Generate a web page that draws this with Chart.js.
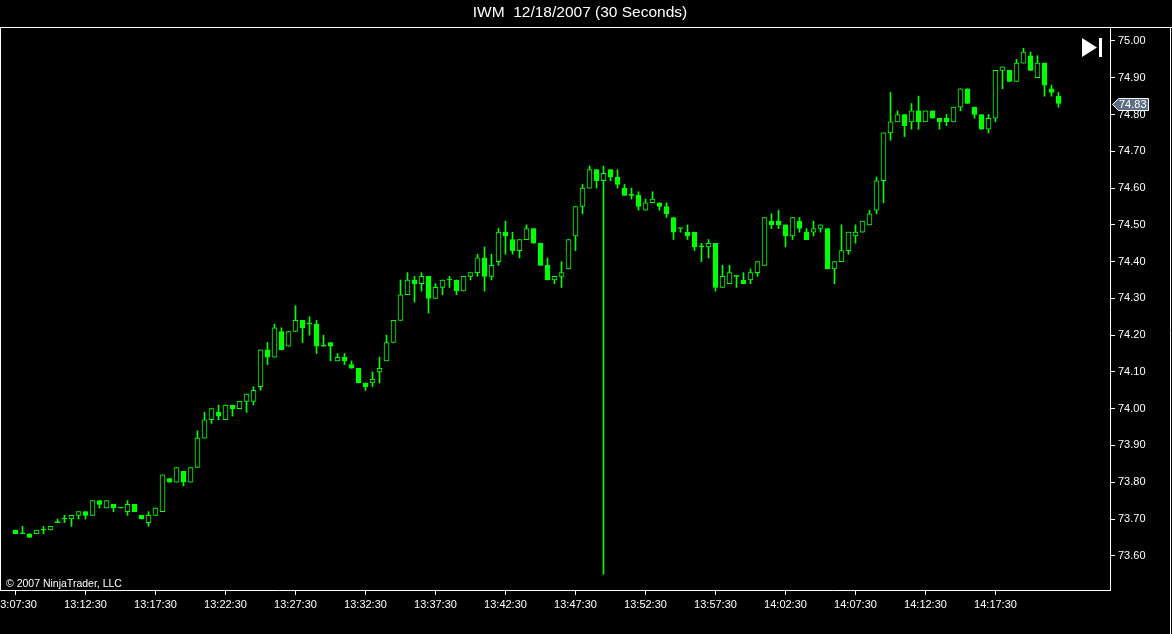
<!DOCTYPE html>
<html>
<head>
<meta charset="utf-8">
<script src="https://cdn.jsdelivr.net/npm/chart.js@4.4.1/dist/chart.umd.min.js"></script>
<style>
  html, body { margin: 0; padding: 0; background: #000; overflow: hidden; }
  canvas { display: block; }
</style>
</head>
<body>
<canvas id="chart" width="1172" height="634"></canvas>
<script>
// IWM 30-second bars, 13:07:30 .. 14:22:00
const opens = [
  73.67,73.66,73.66,73.66,73.67,73.67,73.69,73.70,73.70,73.71,
  73.72,73.71,73.75,73.73,73.74,73.73,73.72,73.74,73.71,73.69,
  73.71,73.72,73.81,73.80,73.83,73.80,73.84,73.92,73.97,73.99,
  73.97,74.01,74.00,74.02,74.02,74.06,74.16,74.14,74.21,74.17,
  74.21,74.24,74.23,74.23,74.17,74.18,74.13,74.14,74.12,74.11,
  74.07,74.07,74.10,74.13,74.18,74.24,74.31,74.35,74.34,74.36,
  74.30,74.33,74.35,74.35,74.32,74.36,74.37,74.41,74.36,74.40,
  74.48,74.46,74.43,74.46,74.49,74.45,74.39,74.35,74.36,74.38,
  74.47,74.55,74.60,74.65,74.62,74.65,74.63,74.60,74.58,74.58,
  74.54,74.56,74.56,74.55,74.52,74.49,74.48,74.48,74.44,74.44,
  74.45,74.33,74.34,74.36,74.35,74.35,74.37,74.39,74.51,74.51,
  74.50,74.47,74.51,74.48,74.48,74.49,74.49,74.38,74.40,74.43,
  74.47,74.48,74.50,74.54,74.62,74.75,74.78,74.80,74.78,74.81,
  74.78,74.81,74.79,74.79,74.78,74.82,74.87,74.82,74.80,74.76,
  74.79,74.92,74.92,74.89,74.94,74.96,74.90,74.94,74.87,74.85
];
const highs = [
  73.67,73.68,73.66,73.67,73.68,73.68,73.70,73.71,73.71,73.72,
  73.72,73.75,73.75,73.75,73.74,73.73,73.75,73.74,73.71,73.72,
  73.73,73.82,73.81,73.84,73.83,73.84,73.94,73.99,74.00,74.01,
  74.01,74.01,74.02,74.04,74.06,74.16,74.18,74.23,74.22,74.21,
  74.28,74.24,74.25,74.24,74.20,74.18,74.15,74.15,74.13,74.11,
  74.07,74.10,74.14,74.20,74.24,74.35,74.37,74.36,74.37,74.36,
  74.34,74.35,74.36,74.35,74.36,74.37,74.42,74.44,74.42,74.49,
  74.51,74.48,74.46,74.50,74.49,74.45,74.41,74.36,74.40,74.46,
  74.55,74.61,74.66,74.65,74.66,74.65,74.65,74.61,74.60,74.59,
  74.57,74.59,74.56,74.56,74.52,74.49,74.50,74.48,74.45,74.46,
  74.45,74.39,74.39,74.36,74.37,74.38,74.40,74.52,74.53,74.54,
  74.50,74.52,74.52,74.49,74.51,74.50,74.49,74.40,74.50,74.48,
  74.50,74.51,74.54,74.63,74.75,74.86,74.81,74.80,74.83,74.85,
  74.81,74.81,74.79,74.80,74.82,74.87,74.87,74.82,74.80,74.80,
  74.92,74.93,74.92,74.95,74.98,74.97,74.96,74.94,74.88,74.86
];
const lows = [
  73.66,73.66,73.65,73.66,73.66,73.67,73.69,73.69,73.68,73.70,
  73.70,73.71,73.73,73.73,73.72,73.73,73.71,73.72,73.70,73.68,
  73.71,73.72,73.80,73.80,73.79,73.80,73.84,73.92,73.96,73.97,
  73.97,73.98,74.00,73.99,74.01,74.05,74.12,74.14,74.16,74.17,
  74.21,74.18,74.20,74.15,74.17,74.13,74.13,74.12,74.11,74.07,
  74.05,74.06,74.07,74.13,74.18,74.24,74.31,74.29,74.32,74.26,
  74.30,74.31,74.33,74.31,74.32,74.35,74.36,74.32,74.35,74.39,
  74.42,74.42,74.41,74.46,74.45,74.39,74.35,74.34,74.33,74.38,
  74.43,74.53,74.60,74.60,73.55,74.62,74.60,74.58,74.57,74.54,
  74.54,74.56,74.54,74.52,74.46,74.48,74.46,74.43,74.40,74.41,
  74.32,74.33,74.34,74.33,74.34,74.34,74.36,74.39,74.49,74.49,
  74.44,74.46,74.48,74.46,74.47,74.48,74.38,74.34,74.40,74.42,
  74.45,74.48,74.50,74.53,74.56,74.73,74.78,74.74,74.76,74.76,
  74.78,74.79,74.76,74.77,74.78,74.81,74.83,74.79,74.76,74.75,
  74.78,74.87,74.89,74.89,74.94,74.92,74.90,74.85,74.85,74.82
];
const closes = [
  73.66,73.66,73.65,73.67,73.67,73.68,73.69,73.70,73.71,73.72,
  73.71,73.75,73.74,73.75,73.73,73.73,73.74,73.72,73.70,73.71,
  73.73,73.82,73.80,73.84,73.80,73.84,73.92,73.97,74.00,73.98,
  74.01,74.00,74.02,74.04,74.05,74.16,74.14,74.22,74.16,74.21,
  74.24,74.22,74.23,74.17,74.17,74.17,74.14,74.13,74.11,74.07,
  74.06,74.08,74.11,74.18,74.24,74.31,74.35,74.34,74.36,74.30,
  74.33,74.35,74.35,74.32,74.36,74.37,74.41,74.36,74.39,74.48,
  74.47,74.43,74.46,74.49,74.45,74.39,74.35,74.36,74.37,74.46,
  74.55,74.60,74.65,74.62,74.64,74.63,74.61,74.58,74.58,74.55,
  74.56,74.57,74.55,74.53,74.48,74.49,74.47,74.44,74.44,74.45,
  74.33,74.36,74.37,74.36,74.34,74.37,74.40,74.52,74.50,74.50,
  74.47,74.52,74.49,74.46,74.49,74.50,74.38,74.40,74.43,74.48,
  74.48,74.51,74.53,74.62,74.75,74.78,74.80,74.77,74.81,74.78,
  74.81,74.79,74.78,74.78,74.82,74.87,74.83,74.80,74.76,74.79,
  74.92,74.93,74.89,74.94,74.97,74.92,74.94,74.88,74.86,74.83
];
const timeLabels = ['13:07:30','13:12:30','13:17:30','13:22:30','13:27:30','13:32:30','13:37:30',
  '13:42:30','13:47:30','13:52:30','13:57:30','14:02:30','14:07:30','14:12:30','14:17:30'];
const priceTicks = [73.6,73.7,73.8,73.9,74.0,74.1,74.2,74.3,74.4,74.5,74.6,74.7,74.8,74.9,75.0];
const barsPerLabel = 10;

const GREEN = '#00ff00';
const FONT = 'Liberation Sans, Arial, sans-serif';

const idx = opens.map((_, i) => i);
const bodies = idx.map(i => ({ x: i, y: [opens[i], closes[i]] }));
const wicks = idx.map(i => ({ x: i, y: [lows[i], highs[i]] }));
const bodyFill = idx.map(i => closes[i] > opens[i] ? '#000' : GREEN);

function fixBox(w, h) {
  return s => {
    if (w) s.width = w;
    if (h) s.height = h;
    s.paddingLeft = 0; s.paddingRight = 0; s.paddingTop = 0; s.paddingBottom = 0;
  };
}

const frame = {
  id: 'frame',
  afterDraw(chart) {
    const c = chart.ctx, y = chart.scales.y;
    c.save();
    c.strokeStyle = '#fff';
    c.lineWidth = 1;
    c.beginPath();
    c.moveTo(0, 27.5); c.lineTo(1172, 27.5);
    c.moveTo(0.5, 27); c.lineTo(0.5, 591);
    c.moveTo(1170.5, 27); c.lineTo(1170.5, 634);
    c.stroke();

    c.fillStyle = '#fff';
    c.textAlign = 'center';
    c.textBaseline = 'middle';
    c.font = '15.5px ' + FONT;
    c.fillText('IWM  12/18/2007 (30 Seconds)', 580, 13);

    c.textAlign = 'left';
    c.textBaseline = 'alphabetic';
    c.font = '10.5px ' + FONT;
    c.fillText('\u00a9 2007 NinjaTrader, LLC', 6, 587);

    // go-to-end button
    c.beginPath();
    c.moveTo(1082, 38); c.lineTo(1097, 47.5); c.lineTo(1082, 57); c.closePath();
    c.fill();
    c.fillRect(1099, 38, 3, 19);

    // last price marker
    const last = closes[closes.length - 1];
    const py = Math.round(y.getPixelForValue(last)) + 0.5;
    c.beginPath();
    c.moveTo(1112.5, py);
    c.lineTo(1118.5, py - 6);
    c.lineTo(1148.5, py - 6);
    c.lineTo(1148.5, py + 6);
    c.lineTo(1118.5, py + 6);
    c.closePath();
    c.fillStyle = '#5e6e86';
    c.fill();
    c.strokeStyle = '#fff';
    c.stroke();
    c.fillStyle = '#fff';
    c.textBaseline = 'middle';
    c.font = '11px ' + FONT;
    c.fillText(last.toFixed(2), 1119, py + 0.5);
    c.restore();
  }
};

new Chart(document.getElementById('chart'), {
  type: 'bar',
  data: {
    datasets: [
      {
        label: 'body',
        data: bodies,
        backgroundColor: bodyFill,
        borderColor: GREEN,
        borderWidth: 1,
        borderSkipped: false,
        barThickness: 5,
        minBarLength: 1,
        grouped: false
      },
      {
        label: 'wick',
        data: wicks,
        backgroundColor: GREEN,
        borderWidth: 0,
        barThickness: 1,
        grouped: false
      }
    ]
  },
  options: {
    responsive: false,
    devicePixelRatio: 1,
    animation: false,
    layout: { padding: { top: 28, left: 1, right: 0, bottom: 0 } },
    plugins: { legend: { display: false }, tooltip: { enabled: false }, title: { display: false } },
    scales: {
      x: {
        type: 'linear',
        position: 'bottom',
        offset: false,
        min: -2.0714,
        max: 156.357,
        afterFit: fixBox(0, 44),
        afterBuildTicks: s => { s.ticks = timeLabels.map((_, k) => ({ value: k * barsPerLabel })); },
        ticks: {
          color: '#fff',
          font: { family: FONT, size: 11 },
          padding: 3,
          maxRotation: 0,
          autoSkip: false,
          callback: v => timeLabels[Math.round(v / barsPerLabel)]
        },
        grid: { offset: false, drawOnChartArea: false, drawTicks: true, tickLength: 5, color: '#fff' },
        border: { display: true, color: '#fff' }
      },
      y: {
        position: 'right',
        min: 73.50693,
        max: 75.03535,
        afterFit: fixBox(62, 0),
        afterBuildTicks: s => { s.ticks = priceTicks.map(v => ({ value: v })); },
        ticks: {
          color: '#fff',
          font: { family: FONT, size: 11 },
          padding: 3,
          callback: v => v.toFixed(2)
        },
        grid: { drawOnChartArea: false, drawTicks: true, tickLength: 5, color: '#fff' },
        border: { display: true, color: '#fff' }
      }
    }
  },
  plugins: [frame]
});
</script>
</body>
</html>
